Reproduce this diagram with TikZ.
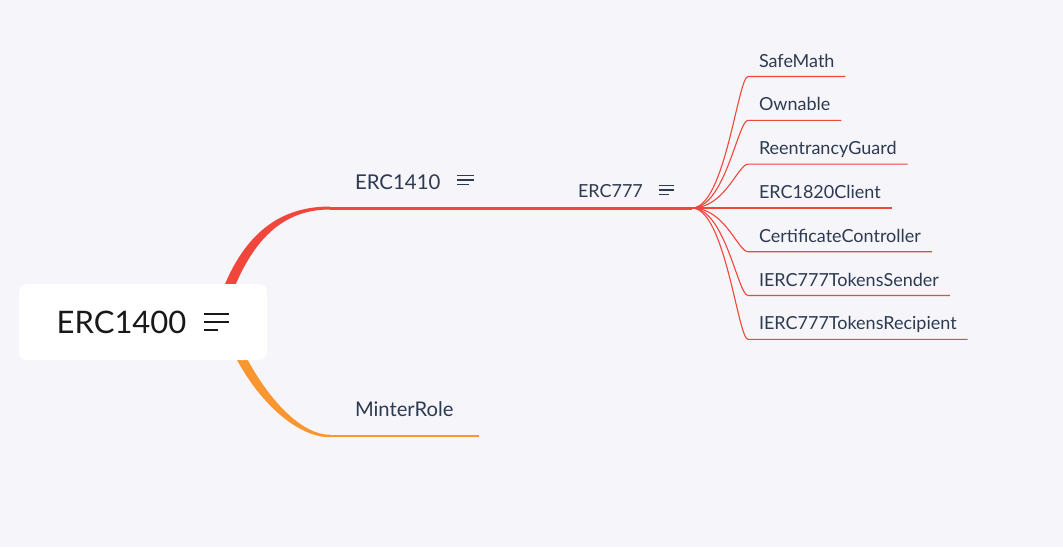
\documentclass[tikz,border=0pt]{standalone}
\usepackage{fontspec}
\setmainfont{Lato}
\usepackage{tikz}
\definecolor{bgcol}{HTML}{F5F5FA}
\definecolor{branchred}{HTML}{F0463B}
\definecolor{branchorange}{HTML}{F9962F}
\definecolor{labelcol}{HTML}{2E3A50}
% little "notes" icon: long width, short width, gap, thickness, raise
\newcommand{\menuicon}[5]{\raisebox{#5}{\vbox{\hrule width #1 height #4\vskip #3\hrule width #1 height #4\vskip #3\hrule width #2 height #4}}}
\tikzstyle{every node}=[text=labelcol, outer sep=0pt]
\tikzstyle{rootbox}=[fill=white,
                     rounded corners=8pt,
                     minimum width=248pt,
                     minimum height=76pt,
                     text=black!90,
                     font=\fontsize{31}{35}\selectfont,
                     text height=22pt,
                     text depth=0pt]
\tikzstyle{branchlabel}=[anchor=south west,
                         inner xsep=25pt,
                         inner ysep=0pt,
                         font=\fontsize{20.4}{24}\selectfont,
                         text height=15pt]
\tikzstyle{leaf}=[anchor=south west,
                  inner xsep=11pt,
                  inner ysep=0pt,
                  font=\fontsize{18}{21}\selectfont,
                  text height=13pt,
                  text depth=9.5pt]
\tikzstyle{redline}=[draw=branchred, line width=3pt]
\tikzstyle{orangeline}=[draw=branchorange, line width=2.5pt]
\tikzstyle{leafline}=[draw=branchred, line width=1.1pt]

\begin{document}
\begin{tikzpicture}[x=1pt,y=-1pt]
\fill[bgcol] (0,0) rectangle (1063,547);
\useasboundingbox (0,0) rectangle (1063,547);

\node (ERC1410)    [branchlabel,text depth=19pt] at (330,208) {ERC1410\hspace{17pt}\menuicon{17pt}{12pt}{3pt}{1.5pt}{4pt}};
\node (ERC777)     [branchlabel,inner xsep=13pt,text depth=11pt,font=\fontsize{18}{21}\selectfont] at (565,208) {ERC777\hspace{16pt}\menuicon{15pt}{10pt}{3pt}{1.5pt}{2pt}};
\node (MinterRole) [branchlabel,text depth=20pt,font=\fontsize{20.2}{24}\selectfont] at (330,436) {MinterRole};
\coordinate (hub) at (692,208);

\node (SafeMath)      [leaf] at (748,76.5)  {SafeMath};
\node (Ownable)       [leaf] at (748,120.3) {Ownable};
\node (Reentrancy)    [leaf] at (748,164.1) {ReentrancyGuard};
\node (ERC1820Client) [leaf] at (748,208)   {ERC1820Client};
\node (Certificate)   [leaf] at (748,251.7) {CertificateController};
\node (TokensSender)  [leaf] at (748,295.5) {IERC777TokensSender};
\node (TokensRecip)   [leaf] at (748,339.3) {IERC777TokensRecipient};

% tapered main branches
\fill[branchred] (212,322) .. controls (233,245) and (270,206.5) .. ([yshift=1.5pt]ERC1410.south west)
  -- ([yshift=-1.5pt]ERC1410.south west) .. controls (275,209.5) and (244,250) .. (222,322) -- cycle;
\fill[branchorange] (220,322) .. controls (245,392) and (293,437.25) .. ([yshift=-1.25pt]MinterRole.south west)
  -- ([yshift=1.25pt]MinterRole.south west) .. controls (297,434.75) and (256,388) .. (230,322) -- cycle;
\draw[redline] (ERC1410.south west) -- (ERC777.south west) -- (hub);
\draw[orangeline] (MinterRole.south west) -- (MinterRole.south east);

\node (ERC1400) [rootbox] at (143,322) {ERC1400\hspace{18pt}\menuicon{25pt}{14pt}{6pt}{2pt}{2pt}};

% leaves of ERC777
\draw[leafline] (hub) .. controls +(33,0) and +(-10,0) .. (SafeMath.south west) -- (SafeMath.south east);
\draw[leafline] (hub) .. controls +(33,0) and +(-10,0) .. (Ownable.south west) -- (Ownable.south east);
\draw[leafline] (hub) .. controls +(33,0) and +(-10,0) .. (Reentrancy.south west) -- (Reentrancy.south east);
\draw[leafline] (hub) -- (ERC1820Client.south west) -- (ERC1820Client.south east);
\draw[leafline] (hub) .. controls +(33,0) and +(-10,0) .. (Certificate.south west) -- (Certificate.south east);
\draw[leafline] (hub) .. controls +(33,0) and +(-10,0) .. (TokensSender.south west) -- (TokensSender.south east);
\draw[leafline] (hub) .. controls +(33,0) and +(-10,0) .. (TokensRecip.south west) -- (TokensRecip.south east);
\end{tikzpicture}
\end{document}
